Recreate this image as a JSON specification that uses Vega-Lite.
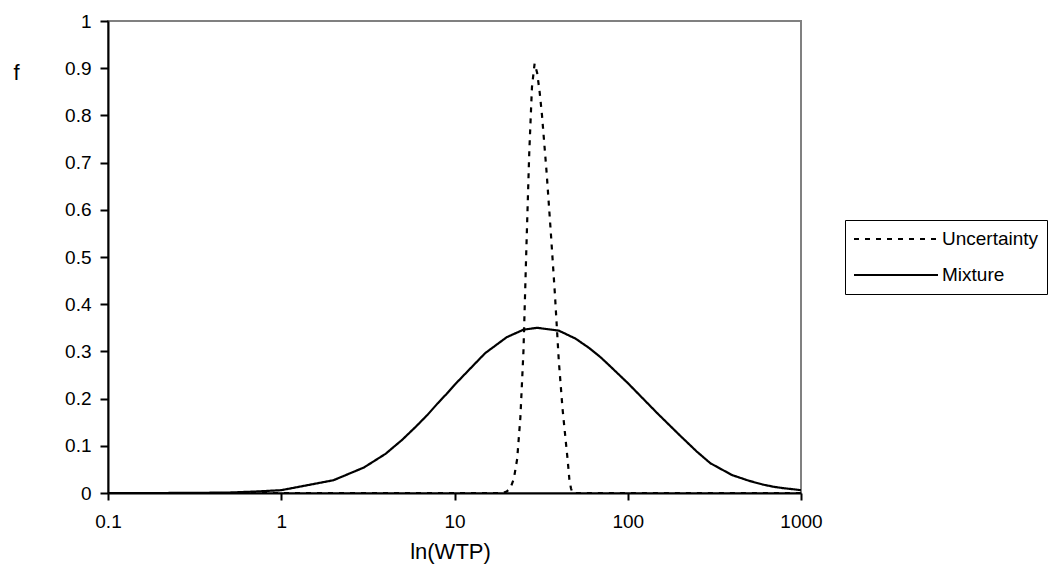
{
  "$schema": "https://vega.github.io/schema/vega-lite/v6.json",
  "width": 693,
  "height": 472,
  "autosize": {"type": "none"},
  "padding": {"left": 108, "top": 21, "right": 252, "bottom": 93},
  "background": "white",
  "config": {
    "font": "Liberation Sans",
    "view": {"stroke": "#808080", "strokeWidth": 2}
  },
  "data": {
    "values": [
      {"series": "Mixture", "wtp": 0.1, "f": 0},
      {"series": "Mixture", "wtp": 0.2, "f": 0},
      {"series": "Mixture", "wtp": 0.3, "f": 0.0002},
      {"series": "Mixture", "wtp": 0.5, "f": 0.001},
      {"series": "Mixture", "wtp": 0.7, "f": 0.003},
      {"series": "Mixture", "wtp": 1, "f": 0.006},
      {"series": "Mixture", "wtp": 2, "f": 0.027},
      {"series": "Mixture", "wtp": 3, "f": 0.054},
      {"series": "Mixture", "wtp": 4, "f": 0.083},
      {"series": "Mixture", "wtp": 5, "f": 0.113},
      {"series": "Mixture", "wtp": 6, "f": 0.141},
      {"series": "Mixture", "wtp": 7, "f": 0.166},
      {"series": "Mixture", "wtp": 8, "f": 0.19},
      {"series": "Mixture", "wtp": 9, "f": 0.21},
      {"series": "Mixture", "wtp": 10, "f": 0.229},
      {"series": "Mixture", "wtp": 15, "f": 0.296},
      {"series": "Mixture", "wtp": 20, "f": 0.33},
      {"series": "Mixture", "wtp": 25, "f": 0.346},
      {"series": "Mixture", "wtp": 30, "f": 0.35},
      {"series": "Mixture", "wtp": 40, "f": 0.344},
      {"series": "Mixture", "wtp": 50, "f": 0.327},
      {"series": "Mixture", "wtp": 60, "f": 0.307},
      {"series": "Mixture", "wtp": 70, "f": 0.287},
      {"series": "Mixture", "wtp": 80, "f": 0.267},
      {"series": "Mixture", "wtp": 90, "f": 0.249},
      {"series": "Mixture", "wtp": 100, "f": 0.233},
      {"series": "Mixture", "wtp": 150, "f": 0.167},
      {"series": "Mixture", "wtp": 200, "f": 0.122},
      {"series": "Mixture", "wtp": 250, "f": 0.088},
      {"series": "Mixture", "wtp": 300, "f": 0.063},
      {"series": "Mixture", "wtp": 400, "f": 0.038},
      {"series": "Mixture", "wtp": 500, "f": 0.026},
      {"series": "Mixture", "wtp": 600, "f": 0.018},
      {"series": "Mixture", "wtp": 700, "f": 0.013},
      {"series": "Mixture", "wtp": 800, "f": 0.01},
      {"series": "Mixture", "wtp": 900, "f": 0.008},
      {"series": "Mixture", "wtp": 1000, "f": 0.006},
      {"series": "Uncertainty", "wtp": 0.1, "f": 0},
      {"series": "Uncertainty", "wtp": 1, "f": 0},
      {"series": "Uncertainty", "wtp": 10, "f": 0},
      {"series": "Uncertainty", "wtp": 19, "f": 0},
      {"series": "Uncertainty", "wtp": 20, "f": 0.003},
      {"series": "Uncertainty", "wtp": 21, "f": 0.01},
      {"series": "Uncertainty", "wtp": 22, "f": 0.03},
      {"series": "Uncertainty", "wtp": 23, "f": 0.072},
      {"series": "Uncertainty", "wtp": 24, "f": 0.16},
      {"series": "Uncertainty", "wtp": 25, "f": 0.3},
      {"series": "Uncertainty", "wtp": 26, "f": 0.52},
      {"series": "Uncertainty", "wtp": 27, "f": 0.72},
      {"series": "Uncertainty", "wtp": 28, "f": 0.86},
      {"series": "Uncertainty", "wtp": 29, "f": 0.91},
      {"series": "Uncertainty", "wtp": 30, "f": 0.89},
      {"series": "Uncertainty", "wtp": 31, "f": 0.85},
      {"series": "Uncertainty", "wtp": 32, "f": 0.8},
      {"series": "Uncertainty", "wtp": 34, "f": 0.68},
      {"series": "Uncertainty", "wtp": 36, "f": 0.55},
      {"series": "Uncertainty", "wtp": 38, "f": 0.42},
      {"series": "Uncertainty", "wtp": 40, "f": 0.28},
      {"series": "Uncertainty", "wtp": 42, "f": 0.18},
      {"series": "Uncertainty", "wtp": 44, "f": 0.105},
      {"series": "Uncertainty", "wtp": 45, "f": 0.07},
      {"series": "Uncertainty", "wtp": 46, "f": 0.03},
      {"series": "Uncertainty", "wtp": 47, "f": 0.01},
      {"series": "Uncertainty", "wtp": 48, "f": 0},
      {"series": "Uncertainty", "wtp": 50, "f": 0},
      {"series": "Uncertainty", "wtp": 100, "f": 0},
      {"series": "Uncertainty", "wtp": 1000, "f": 0}
    ]
  },
  "mark": {"type": "line", "strokeWidth": 2.2, "color": "black", "clip": true},
  "encoding": {
    "x": {
      "field": "wtp",
      "type": "quantitative",
      "scale": {"type": "log", "domain": [0.1, 1000], "nice": false},
      "axis": {
        "title": "ln(WTP)",
        "values": [0.1, 1, 10, 100, 1000],
        "format": "~g",
        "grid": false,
        "domainColor": "black",
        "domainWidth": 2,
        "tickColor": "black",
        "tickWidth": 2,
        "tickSize": 7,
        "labelFontSize": 19,
        "labelColor": "black",
        "labelPadding": 12,
        "labelFlush": false,
        "labelOverlap": false,
        "titleFontSize": 22,
        "titleFontWeight": "normal",
        "titleColor": "black",
        "titleX": 342,
        "titleY": 58,
        "titleAlign": "center",
        "titleBaseline": "middle"
      }
    },
    "y": {
      "field": "f",
      "type": "quantitative",
      "scale": {"domain": [0, 1], "nice": false},
      "axis": {
        "title": "f",
        "values": [0, 0.1, 0.2, 0.3, 0.4, 0.5, 0.6, 0.7, 0.8, 0.9, 1],
        "format": "~g",
        "grid": false,
        "domainColor": "black",
        "domainWidth": 2,
        "tickColor": "black",
        "tickWidth": 2,
        "tickSize": 8,
        "labelFontSize": 19,
        "labelColor": "black",
        "labelPadding": 9,
        "labelFlush": false,
        "labelOverlap": false,
        "titleAngle": 0,
        "titleFontSize": 22,
        "titleFontWeight": "normal",
        "titleColor": "black",
        "titleX": -92,
        "titleY": 51,
        "titleAlign": "center",
        "titleBaseline": "middle"
      }
    },
    "strokeDash": {
      "field": "series",
      "type": "nominal",
      "scale": {"domain": ["Uncertainty", "Mixture"], "range": [[5, 6], [1, 0]]},
      "legend": {
        "title": null,
        "orient": "none",
        "legendX": 737,
        "legendY": 199,
        "direction": "vertical",
        "symbolType": "stroke",
        "symbolSize": 7056,
        "symbolStrokeWidth": 2,
        "symbolStrokeColor": "black",
        "clipHeight": 22,
        "rowPadding": 14,
        "padding": 8,
        "strokeColor": "black",
        "labelFontSize": 19,
        "labelColor": "black",
        "labelOffset": 3,
        "labelFont": "Liberation Sans"
      }
    }
  }
}
